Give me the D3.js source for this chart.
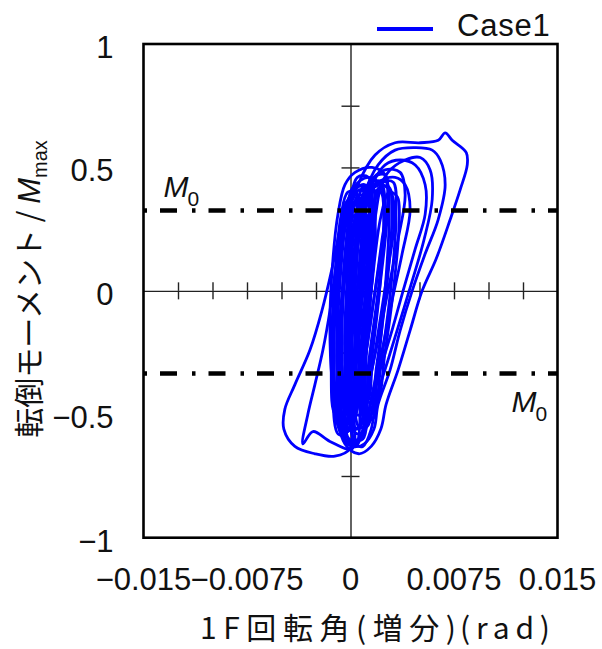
<!DOCTYPE html>
<html><head><meta charset="utf-8">
<script src="https://cdn.jsdelivr.net/npm/d3@7"></script>
<style>body{margin:0;background:#fff}svg{display:block}</style>
</head><body><svg id="c" width="602" height="649"></svg>
<script>
// ---- data ----
const xTickValues = [-0.015, -0.0075, 0, 0.0075, 0.015];
const xTickLabels = ["\u22120.015", "\u22120.0075", "0", "0.0075", "0.015"];
const yTickValues = [-1, -0.5, 0, 0.5, 1];
const yTickLabels = ["\u22121", "\u22120.5", "0", "0.5", "1"];
const xMinorTicks = [-0.0125, -0.01, -0.0075, -0.005, -0.0025, 0.0025, 0.005, 0.0075, 0.01, 0.0125];
const yMinorTicks = [-0.75, -0.5, -0.25, 0.25, 0.5, 0.75];
const m0Levels = [0.325, -0.335];
const seriesName = "Case1";
const xTitleParts = ["1F回転角(増分)", "(rad)"];
const yTitle = "転倒モーメント / ";

// hysteresis loops: [rotation (rad), moment / Mmax]
const loopR1 = [[-0.0004,-0.62],[-0.00113,-0.44],[-0.00127,-0.20],[-0.00091,0.04],[-0.0004,0.25],[0.00054,0.43],[0.00178,0.55],[0.00323,0.60],[0.00505,0.60],[0.00636,0.61],[0.00686,0.64],[0.00737,0.61],[0.00839,0.56],[0.00846,0.51],[0.00795,0.41],[0.00723,0.29],[0.00621,0.13],[0.00519,0.00],[0.00432,-0.16],[0.00345,-0.32],[0.00258,-0.46],[0.0022,-0.56],[0.0015,-0.63],[0.0006,-0.66]];
const loopR2 = [[-0.00018,-0.60],[-0.00091,-0.40],[-0.00076,-0.12],[-0.00018,0.13],[0.00084,0.37],[0.0020,0.51],[0.00323,0.57],[0.00469,0.58],[0.00592,0.57],[0.0065,0.53],[0.00686,0.43],[0.00636,0.29],[0.00541,0.15],[0.00447,0.00],[0.0036,-0.16],[0.00287,-0.32],[0.0020,-0.46],[0.0017,-0.56],[0.0010,-0.62],[0.0003,-0.63]];
const loopR3 = [[0.00011,-0.56],[-0.0004,-0.36],[-0.00025,-0.12],[0.00033,0.17],[0.00127,0.39],[0.00251,0.51],[0.0036,0.53],[0.00469,0.51],[0.00541,0.43],[0.00541,0.31],[0.00469,0.17],[0.00381,0.00],[0.00301,-0.16],[0.00214,-0.32],[0.00142,-0.46],[0.0011,-0.55],[0.0006,-0.58]];
const loopR4 = [[0.00033,-0.62],[-0.00004,-0.44],[0.00011,-0.20],[0.00069,0.09],[0.00156,0.33],[0.00272,0.48],[0.00396,0.53],[0.00505,0.54],[0.00577,0.49],[0.00592,0.37],[0.00534,0.21],[0.00447,0.04],[0.0036,-0.12],[0.00272,-0.28],[0.00185,-0.44],[0.0015,-0.56],[0.0009,-0.63]];
const loopL1 = [[-0.00004,-0.64],[-0.00113,-0.67],[-0.00258,-0.66],[-0.00403,-0.63],[-0.00483,-0.56],[-0.00476,-0.48],[-0.00403,-0.38],[-0.00294,-0.24],[-0.00207,-0.08],[-0.00134,0.09],[-0.00076,0.25],[-0.00018,0.37],[0.00054,0.43],[0.00127,0.39],[0.00156,0.25],[0.00127,0.04],[0.00069,-0.16],[0.00033,-0.36],[0.00011,-0.52]];
const loopL2 = [[0.00011,-0.64],[-0.00149,-0.61],[-0.00272,-0.57],[-0.00345,-0.62],[-0.00309,-0.50],[-0.00258,-0.38],[-0.0020,-0.24],[-0.00149,-0.08],[-0.00098,0.13],[-0.0004,0.31],[0.00033,0.39],[0.00084,0.33],[0.00098,0.13],[0.00069,-0.08],[0.0004,-0.28],[0.00025,-0.48]];
const loopU1 = [[-0.00076,-0.56],[-0.00134,-0.36],[-0.00149,-0.12],[-0.00127,0.13],[-0.00091,0.31],[-0.0004,0.43],[0.00033,0.48],[0.00156,0.50],[0.00251,0.47],[0.00272,0.37],[0.00229,0.21],[0.00178,0.00],[0.00127,-0.20],[0.00069,-0.40],[0.0003,-0.52],[-0.0002,-0.57]];
const loopC1 = [[-0.00033,-0.54],[-0.00091,-0.36],[-0.00098,-0.12],[-0.00076,0.13],[-0.00033,0.31],[0.00033,0.41],[0.00105,0.43],[0.00156,0.37],[0.00171,0.21],[0.00142,0.00],[0.00098,-0.20],[0.00054,-0.40],[0.00011,-0.52]];
const loopC2 = [[-0.00004,-0.50],[-0.00062,-0.32],[-0.00062,-0.08],[-0.00033,0.17],[0.00011,0.33],[0.00069,0.39],[0.00127,0.35],[0.00142,0.21],[0.0012,0.00],[0.00084,-0.20],[0.00047,-0.38],[0.0002,-0.49]];
const loopC3 = [[0.00011,-0.46],[-0.0004,-0.28],[-0.00033,-0.04],[-0.00004,0.17],[0.0004,0.29],[0.00091,0.32],[0.00127,0.25],[0.0012,0.09],[0.00091,-0.12],[0.00062,-0.30],[0.00033,-0.42]];
const loopC4 = [[-0.00062,-0.58],[-0.00127,-0.40],[-0.00134,-0.16],[-0.00098,0.09],[-0.00047,0.29],[0.00025,0.42],[0.00127,0.46],[0.00214,0.43],[0.00251,0.31],[0.00214,0.13],[0.00156,-0.08],[0.00105,-0.28],[0.00054,-0.46],[-0.00004,-0.56]];
const loopC5 = [[0.0004,-0.56],[-0.00018,-0.38],[-0.00011,-0.12],[0.00033,0.13],[0.00084,0.31],[0.00156,0.41],[0.00229,0.43],[0.00301,0.39],[0.00316,0.27],[0.00272,0.09],[0.00214,-0.12],[0.00156,-0.32],[0.00098,-0.48],[0.0007,-0.55]];
const loopC6 = [[-0.00076,-0.52],[-0.0012,-0.32],[-0.00105,-0.04],[-0.00062,0.21],[-0.00004,0.35],[0.00069,0.41],[0.00127,0.37],[0.00127,0.17],[0.00084,-0.04],[0.00033,-0.24],[-0.00018,-0.44],[-0.0005,-0.52]];
const loopC7 = [[-0.00018,-0.62],[-0.00084,-0.44],[-0.00076,-0.20],[-0.00033,0.09],[0.00033,0.29],[0.00127,0.43],[0.00251,0.49],[0.0036,0.48],[0.00396,0.39],[0.00345,0.21],[0.00272,0.00],[0.0020,-0.20],[0.00127,-0.40],[0.0009,-0.56],[0.0004,-0.63]];
const loopC8 = [[0.00025,-0.52],[-0.00018,-0.32],[-0.00004,-0.08],[0.00033,0.15],[0.00084,0.27],[0.00142,0.31],[0.00178,0.25],[0.00163,0.09],[0.00127,-0.12],[0.00084,-0.32],[0.00054,-0.46]];
const loopC9 = [[-0.0004,-0.60],[-0.00091,-0.44],[-0.00091,-0.20],[-0.00047,0.04],[0.00011,0.25],[0.00084,0.37],[0.0020,0.44],[0.00323,0.46],[0.00396,0.43],[0.00432,0.33],[0.00374,0.15],[0.00301,-0.04],[0.00229,-0.24],[0.00156,-0.42],[0.0011,-0.56],[0.0003,-0.62]];
const loopC10 = [[-0.00004,-0.42],[-0.00033,-0.20],[-0.00011,0.04],[0.00025,0.23],[0.00069,0.28],[0.00098,0.21],[0.00084,0.00],[0.00054,-0.20],[0.00025,-0.36]];
const loopC11 = [[0.00047,-0.44],[0.00011,-0.24],[0.00025,0.00],[0.00062,0.21],[0.00113,0.27],[0.00156,0.21],[0.00142,0.00],[0.00105,-0.20],[0.00076,-0.36]];
const loopC12 = [[-0.00047,-0.48],[-0.00076,-0.24],[-0.00054,0.00],[-0.00018,0.21],[0.00033,0.31],[0.00076,0.27],[0.00076,0.09],[0.0004,-0.16],[0.00004,-0.36]];
const loopN1 = [[-0.0006,-0.55],[-0.0010,-0.30],[-0.0008,0.00],[-0.0003,0.30],[0.0002,0.42],[0.0009,0.42],[0.0011,0.30],[0.0008,0.00],[0.0003,-0.30],[0.0000,-0.55]];
const loopN2 = [[0.0001,-0.55],[-0.0003,-0.30],[-0.0001,0.00],[0.0004,0.30],[0.0009,0.42],[0.0016,0.42],[0.0018,0.30],[0.0015,0.00],[0.0010,-0.30],[0.0007,-0.55]];
const loopN3 = [[0.0006,-0.45],[0.0003,-0.25],[0.0005,0.00],[0.0010,0.30],[0.0015,0.40],[0.0022,0.40],[0.0024,0.30],[0.0021,0.00],[0.0016,-0.25],[0.0012,-0.45]];
const loopN4 = [[-0.0011,-0.50],[-0.0014,-0.30],[-0.0012,0.00],[-0.0007,0.30],[-0.0002,0.40],[0.0004,0.40],[0.0006,0.30],[0.0003,0.00],[-0.0002,-0.30],[-0.0005,-0.50]];
const loopN5 = [[-0.0002,-0.62],[-0.0008,-0.40],[-0.0006,0.00],[-0.0001,0.30],[0.0005,0.46],[0.0013,0.46],[0.0016,0.30],[0.0012,0.00],[0.0007,-0.30],[0.0004,-0.62]];
const loopN6 = [[0.0003,-0.60],[-0.0003,-0.40],[0.0002,0.00],[0.0008,0.30],[0.0014,0.44],[0.0022,0.44],[0.0025,0.30],[0.0020,0.00],[0.0013,-0.30],[0.0009,-0.60]];
const loopN7 = [[-0.0005,-0.45],[-0.0007,-0.20],[-0.0004,0.10],[0.0001,0.34],[0.0006,0.38],[0.0010,0.30],[0.0008,0.05],[0.0004,-0.20],[0.0000,-0.45]];
const loopN8 = [[0.0009,-0.50],[0.0006,-0.30],[0.0008,0.00],[0.0013,0.30],[0.0019,0.44],[0.0026,0.44],[0.0028,0.30],[0.0025,0.00],[0.0020,-0.30],[0.0015,-0.50]];
const loopN9 = [[-0.0009,-0.58],[-0.0013,-0.40],[-0.0012,-0.10],[-0.0008,0.20],[-0.0003,0.36],[0.0003,0.38],[0.0005,0.20],[0.0002,-0.10],[-0.0002,-0.40],[-0.0004,-0.58]];
const loopN10 = [[0.0004,-0.50],[0.0000,-0.20],[0.0003,0.10],[0.0008,0.32],[0.0013,0.36],[0.0016,0.25],[0.0013,0.00],[0.0009,-0.25],[0.0007,-0.50]];
const loopN11 = [[-0.0003,-0.52],[-0.0006,-0.30],[-0.0005,0.00],[0.0000,0.28],[0.0005,0.36],[0.0009,0.30],[0.0007,0.00],[0.0003,-0.30],[0.0001,-0.52]];
const loopN12 = [[0.0002,-0.45],[-0.0001,-0.25],[0.0001,0.05],[0.0006,0.30],[0.0011,0.38],[0.0015,0.30],[0.0013,0.05],[0.0009,-0.20],[0.0006,-0.45]];
const loopN13 = [[0.0010,-0.52],[0.0008,-0.30],[0.0012,0.00],[0.0018,0.30],[0.0024,0.44],[0.0031,0.44],[0.0033,0.30],[0.0029,0.00],[0.0022,-0.30],[0.0016,-0.52]];
const loopN14 = [[0.0006,-0.55],[0.0003,-0.30],[0.0008,0.00],[0.0015,0.30],[0.0021,0.42],[0.0028,0.42],[0.0030,0.30],[0.0026,0.00],[0.0019,-0.30],[0.0012,-0.55]];
const loopN15 = [[0.0013,-0.45],[0.0012,-0.20],[0.0016,0.05],[0.0022,0.30],[0.0028,0.40],[0.0034,0.38],[0.0035,0.25],[0.0031,0.00],[0.0025,-0.25],[0.0019,-0.45]];
const loopN16 = [[-0.0001,-0.60],[-0.0004,-0.35],[0.0001,0.00],[0.0009,0.30],[0.0017,0.46],[0.0025,0.47],[0.0027,0.35],[0.0022,0.05],[0.0014,-0.30],[0.0007,-0.60]];

const loops = [loopR1, loopR2, loopR3, loopR4, loopL1, loopL2, loopU1,
  loopC1, loopC2, loopC3, loopC4, loopC5, loopC6, loopC7, loopC8, loopC9, loopC10, loopC11, loopC12,
  loopN1, loopN2, loopN3, loopN4, loopN5, loopN6, loopN7, loopN8, loopN9, loopN10, loopN11, loopN12,
  loopN13, loopN14, loopN15, loopN16];

// ---- layout ----
const box = {left: 143.5, right: 557.5, top: 44, bottom: 537.7};
const x = d3.scaleLinear().domain([-0.015, 0.015]).range([box.left, box.right]);
const y = d3.scaleLinear().domain([-1, 1]).range([box.bottom, box.top]);
const svg = d3.select("#c");
const latin = "'Liberation Sans', Arial, sans-serif";
const cjk = "'Noto Sans CJK JP', 'Noto Sans', sans-serif";
const axisColor = "#222";

// center crossing axes
function styleAxis(g){
  g.selectAll(".domain").attr("stroke", axisColor).attr("stroke-width", 1.4);
  g.selectAll(".tick line").attr("stroke", axisColor).attr("stroke-width", 1.4);
  g.selectAll(".tick text").remove();
}
svg.append("g").attr("transform", `translate(0,${y(0)})`)
  .call(d3.axisBottom(x).tickValues(xMinorTicks).tickSize(8.5).tickSizeOuter(0).tickFormat(""))
  .call(styleAxis);
svg.append("g").attr("transform", `translate(0,${y(0)})`)
  .call(d3.axisTop(x).tickValues(xMinorTicks).tickSize(8.5).tickSizeOuter(0).tickFormat(""))
  .call(g => g.select(".domain").remove()).call(styleAxis);
svg.append("g").attr("transform", `translate(${x(0)},0)`)
  .call(d3.axisLeft(y).tickValues(yMinorTicks).tickSize(9).tickSizeOuter(0).tickFormat(""))
  .call(styleAxis);
svg.append("g").attr("transform", `translate(${x(0)},0)`)
  .call(d3.axisRight(y).tickValues(yMinorTicks).tickSize(9).tickSizeOuter(0).tickFormat(""))
  .call(g => g.select(".domain").remove()).call(styleAxis);

// data loops
const line = d3.line().x(d => x(d[0])).y(d => y(d[1])).curve(d3.curveCatmullRomClosed.alpha(0.5));
svg.append("g").selectAll("path").data(loops).join("path")
  .attr("d", line).attr("fill", "none").attr("stroke", "#0000ff")
  .attr("stroke-width", 2.8).attr("stroke-linejoin", "round");

// M0 dash-dot lines
svg.append("g").selectAll("line").data(m0Levels).join("line")
  .attr("x1", box.left).attr("x2", box.right)
  .attr("y1", d => y(d)).attr("y2", d => y(d))
  .attr("stroke", "#000").attr("stroke-width", 4.5)
  .attr("stroke-dasharray", "3.5,13,17,15");

// frame
svg.append("rect").attr("x", box.left).attr("y", box.top)
  .attr("width", box.right - box.left).attr("height", box.bottom - box.top)
  .attr("fill", "none").attr("stroke", "#000").attr("stroke-width", 2.6);

// tick labels
svg.append("g").selectAll("text").data(yTickValues).join("text")
  .attr("x", box.left - 30).attr("y", d => y(d) + 14)
  .attr("text-anchor", "end").attr("font-family", latin).attr("font-size", 31)
  .attr("fill", "#111").text((d, i) => yTickLabels[i]);
svg.append("g").selectAll("text").data(xTickValues).join("text")
  .attr("x", d => x(d)).attr("y", box.bottom + 52)
  .attr("text-anchor", "middle").attr("font-family", latin).attr("font-size", 31)
  .attr("fill", "#111").text((d, i) => xTickLabels[i]);

// M0 labels
function m0Label(px, py){
  const t = svg.append("text").attr("x", px).attr("y", py).attr("font-family", latin).attr("fill", "#111");
  t.append("tspan").attr("font-size", 30).attr("font-style", "italic").text("M");
  t.append("tspan").attr("font-size", 21).attr("dy", 9).attr("dx", -1).text("0");
}
m0Label(x(-0.015) + 20, y(m0Levels[0]) - 14);
m0Label(x(0.015) - 46, y(m0Levels[1]) + 38);

// axis titles
svg.append("text").attr("x", 200).attr("y", 639)
  .attr("font-family", cjk).attr("font-size", 30).attr("fill", "#111")
  .attr("textLength", 256).attr("lengthAdjust", "spacing").text(xTitleParts[0]);
svg.append("text").attr("x", 460).attr("y", 639)
  .attr("font-family", cjk).attr("font-size", 30).attr("fill", "#111")
  .attr("textLength", 90).attr("lengthAdjust", "spacing").text(xTitleParts[1]);
const yt = svg.append("text").attr("transform", "translate(40,289) rotate(-90)")
  .attr("text-anchor", "middle").attr("fill", "#111");
yt.append("tspan").attr("font-family", cjk).attr("font-size", 30).text(yTitle);
yt.append("tspan").attr("font-family", latin).attr("font-size", 31).attr("font-style", "italic").text("M");
yt.append("tspan").attr("font-family", latin).attr("font-size", 20).attr("dy", 7).text("max");

// legend
svg.append("line").attr("x1", 377).attr("x2", 433).attr("y1", 29).attr("y2", 29)
  .attr("stroke", "#0000ff").attr("stroke-width", 4);
svg.append("text").attr("x", 457).attr("y", 36).attr("font-family", latin)
  .attr("font-size", 31).attr("letter-spacing", 0.8).attr("fill", "#111").text(seriesName);
</script>
</body></html>
